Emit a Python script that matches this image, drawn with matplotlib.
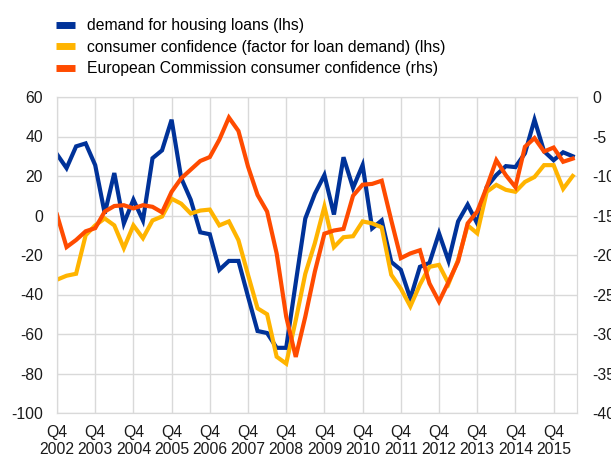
import numpy as np
import matplotlib.pyplot as plt

# quarterly observations, Q4 2002 .. Q2 2016
years = list(range(2002, 2016))
tick_labels = ['Q4\n%d' % y for y in years]

housing_demand = [31, 24, 35, 36.5, 25.5, 1, 21.5, -4, 8, -2.5,
                  29, 33, 48.5, 19, 8, -8.5, -9.5, -27.5, -23, -23,
                  -41, -58.5, -59.5, -67, -67, -34, -1.5, 11, 20.5, 0.5,
                  29.5, 14, 25.5, -6.5, -2.5, -23.5, -27.5, -42, -26, -24,
                  -9, -23, -3, 5.5, -4, 14.5, 20.5, 25, 24.5, 31.5,
                  48.5, 32.5, 28, 32, 30]
confidence_factor = [-32.5, -30.5, -29.5, -10, -5, -1.5, -5, -16.5, -5, -11.5,
                     -2.5, -0.5, 8.5, 6, 1, 2.5, 3, -5, -3, -12.5,
                     -30, -47, -50, -71.5, -75, -53, -29.5, -14, 4.5, -16,
                     -11, -10.5, -3, -4, -6, -30, -37, -46, -35, -26,
                     -25, -34.5, -22.5, -5, -9, 12, 15.5, 13, 12, 17,
                     19.5, 25.5, 25.5, 13.5, 20]
ec_confidence = [-14.9, -19, -18.1, -17, -16.6, -14.5, -13.8, -13.7, -14.1, -13.7,
                 -13.9, -14.6, -12, -10.3, -9.2, -8.1, -7.6, -5.4, -2.6, -4.3,
                 -8.8, -12.4, -14.5, -19.8, -27.8, -32.9, -27.8, -22.1, -17.3, -16.9,
                 -16.7, -12.5, -11.1, -11, -10.6, -15.6, -20.4, -19.8, -19.4, -23.6,
                 -25.9, -23.4, -20.8, -16, -14.5, -11.4, -8, -9.9, -11.4, -6.3,
                 -5.2, -6.9, -6.4, -8.2, -7.8]

blue = '#003299'
yellow = '#ffb400'
red = '#ff4b00'
grid_col = '#d9d9d9'

plt.rcParams['font.family'] = ['Liberation Sans', 'DejaVu Sans']
plt.rcParams['axes.unicode_minus'] = False
fs = 11.3

fig = plt.figure(figsize=(6.11, 4.58), dpi=100)
ax = fig.add_axes([57 / 611, 45 / 458, 520 / 611, 316 / 458])
ax2 = ax.twinx()

q = np.arange(len(housing_demand))
l1, = ax.plot(q, housing_demand, color=blue, lw=3, solid_joinstyle='miter')
l2, = ax.plot(q, confidence_factor, color=yellow, lw=3, solid_joinstyle='miter')
l3, = ax2.plot(q, ec_confidence, color=red, lw=3, solid_joinstyle='miter')

ax.set_xlim(0, 54.45)
ax.set_ylim(-100, 60)
ax2.set_ylim(-40, 0)
ax.set_yticks(np.arange(-100, 61, 20))
ax2.set_yticks(np.arange(-40, 1, 5))
ax.set_xticks(np.arange(0, 53, 4))
ax.set_xticklabels(tick_labels)

ax.grid(True, color=grid_col, lw=1)
ax.set_axisbelow(True)
for a in (ax, ax2):
    for s in a.spines.values():
        s.set_color(grid_col)
    a.tick_params(length=0, labelsize=fs, colors='#1a1a1a')
ax.tick_params(axis='y', pad=10)
ax.tick_params(axis='x', pad=8.5)
ax2.tick_params(axis='y', pad=11)
for t in ax.get_xticklabels():
    t.set_linespacing(1.2)

fig.legend([l1, l2, l3],
           ['demand for housing loans (lhs)',
            'consumer confidence (factor for loan demand) (lhs)',
            'European Commission consumer confidence (rhs)'],
           loc='upper left', bbox_to_anchor=(50 / 611, 1 - 12 / 458),
           frameon=False, fontsize=fs, handlelength=1.2, handletextpad=0.75,
           labelspacing=0.42, borderaxespad=0)
for h in fig.legends[0].get_lines():
    h.set_linewidth(5)
    h.set_solid_capstyle('butt')

fig.savefig('out.png', dpi=100)
